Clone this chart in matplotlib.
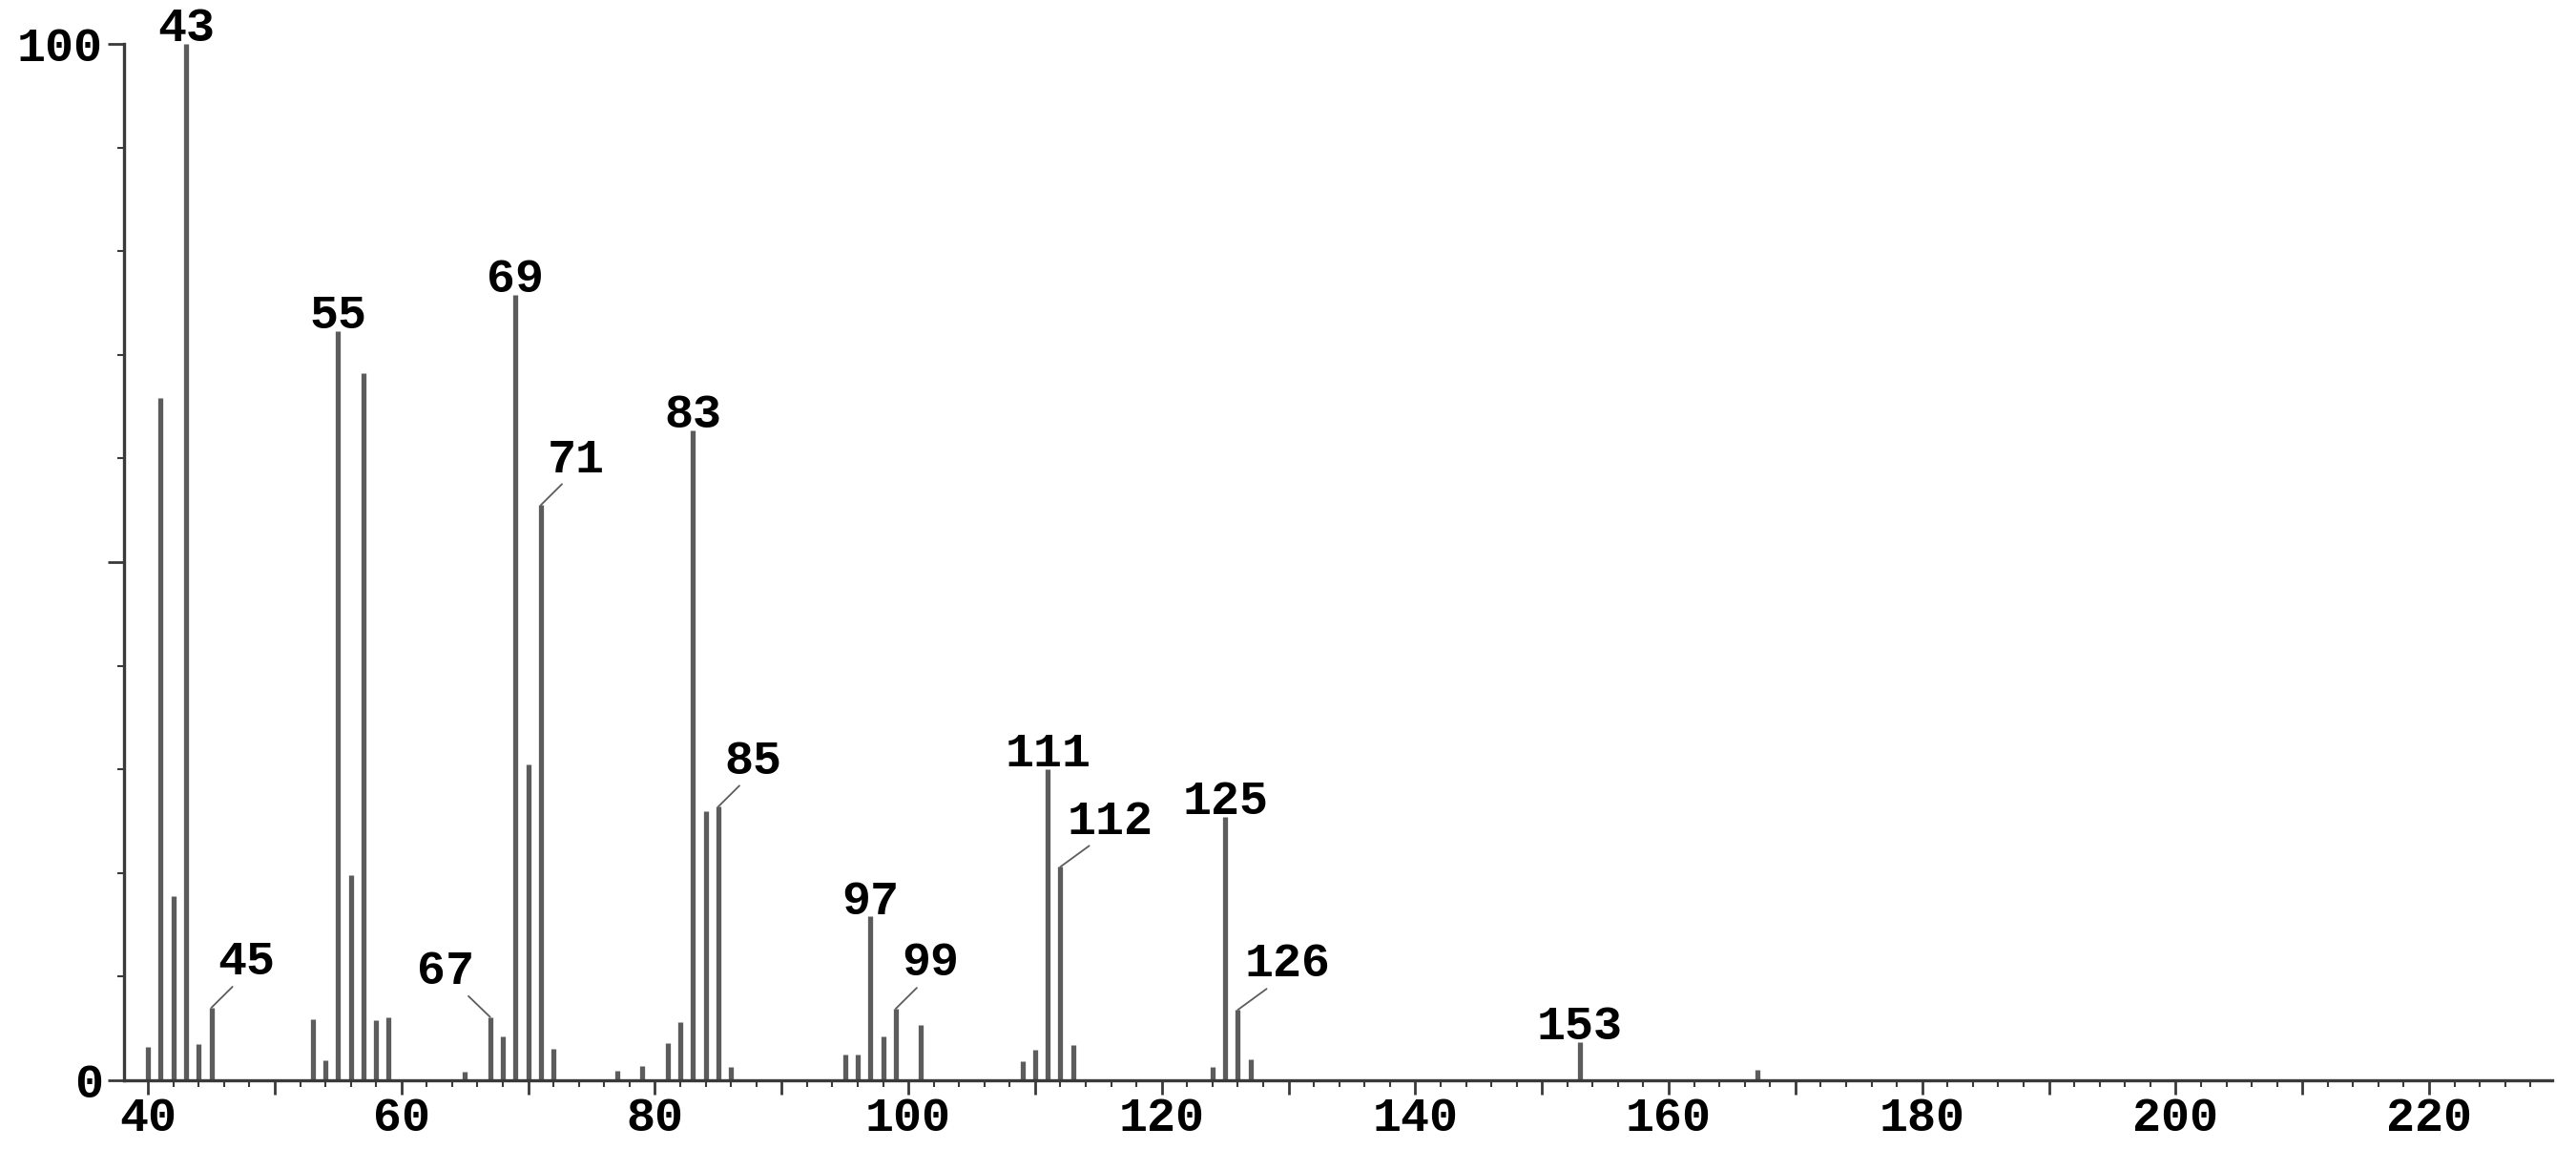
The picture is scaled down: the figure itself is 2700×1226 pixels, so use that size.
import matplotlib
matplotlib.use('Agg')
import matplotlib.pyplot as plt
from matplotlib.ticker import MultipleLocator, FixedLocator, FuncFormatter

# mass spectrum, relative abundance (%)
mz = [40, 41, 42, 43, 44, 45, 53, 54, 55, 56, 57, 58, 59, 65, 67, 68, 69, 70,
      71, 72, 77, 79, 81, 82, 83, 84, 85, 86, 95, 96, 97, 98, 99, 101, 109,
      110, 111, 112, 113, 124, 125, 126, 127, 153, 167]
intensity = [3.2, 65.8, 17.8, 100, 3.5, 7.0, 5.9, 1.9, 72.3, 19.8, 68.2, 5.8,
             6.1, 0.8, 6.1, 4.2, 75.8, 30.5, 55.5, 3.0, 0.9, 1.4, 3.6, 5.6,
             62.7, 26.0, 26.4, 1.3, 2.5, 2.5, 15.8, 4.2, 6.9, 5.3, 1.8, 2.9,
             30.0, 20.6, 3.4, 1.3, 25.4, 6.8, 2.0, 3.7, 1.0]

# labelled peaks; those with a leader line are drawn off to one side
top_labels = [43, 55, 69, 83, 97, 111, 125, 153]
leader_right = [45, 71, 85, 99, 112, 126]
leader_left = [67]

x_ticklabels = [40, 60, 80, 100, 120, 140, 160, 180, 200, 220]

font = {'family': 'Liberation Mono', 'weight': 'bold', 'size': 36}
grey = '#5c5c5c'

fig = plt.figure(figsize=(27, 12.26), dpi=100)
ax = fig.add_axes([0.0481, 0.0767, 0.9426, 0.8858])

ax.vlines(mz, 0, intensity, color=grey, lw=3.8)

height = dict(zip(mz, intensity))
for m in top_labels:
    ax.annotate(str(m), (m, height[m]), xytext=(0, 2), textcoords='offset points',
                ha='center', va='baseline', annotation_clip=False, **font)
for m in leader_right:
    ax.annotate(str(m), (m, height[m]), xytext=(5, 25), textcoords='offset points',
                ha='left', va='baseline', annotation_clip=False,
                arrowprops=dict(arrowstyle='-', color=grey, lw=1.3,
                                relpos=(0.3, 0.0), shrinkA=0, shrinkB=0),
                **font)
for m in leader_left:
    ax.annotate(str(m), (m, height[m]), xytext=(-12, 25), textcoords='offset points',
                ha='right', va='baseline', annotation_clip=False,
                arrowprops=dict(arrowstyle='-', color=grey, lw=1.3,
                                relpos=(0.85, 0.0), shrinkA=0, shrinkB=0),
                **font)

ax.set_xlim(38.1, 229.7)
ax.set_ylim(0, 100)

for side in ['top', 'right']:
    ax.spines[side].set_visible(False)
for side in ['left', 'bottom']:
    ax.spines[side].set_linewidth(2.4)
    ax.spines[side].set_color('#3a3a3a')

ax.xaxis.set_major_locator(MultipleLocator(10))
ax.xaxis.set_minor_locator(MultipleLocator(2))
ax.xaxis.set_major_formatter(FuncFormatter(
    lambda v, pos: str(int(round(v))) if int(round(v)) in x_ticklabels else ''))
ax.yaxis.set_major_locator(FixedLocator([0, 50, 100]))
ax.yaxis.set_minor_locator(MultipleLocator(10))
ax.yaxis.set_major_formatter(FuncFormatter(
    lambda v, pos: {0: '0', 100: '100'}.get(int(round(v)), '')))

ax.tick_params(axis='x', which='major', length=11, width=2, color='#3a3a3a', pad=1)
ax.tick_params(axis='x', which='minor', length=5, width=1.5, color='#3a3a3a')
ax.tick_params(axis='y', which='major', length=12, width=2, color='#3a3a3a', pad=4)
ax.tick_params(axis='y', which='minor', length=5, width=1.5, color='#3a3a3a')
for lab in ax.get_xticklabels() + ax.get_yticklabels():
    lab.set_fontfamily('Liberation Mono')
    lab.set_fontweight('bold')
    lab.set_fontsize(36)

fig.savefig('out.png', dpi=100)
